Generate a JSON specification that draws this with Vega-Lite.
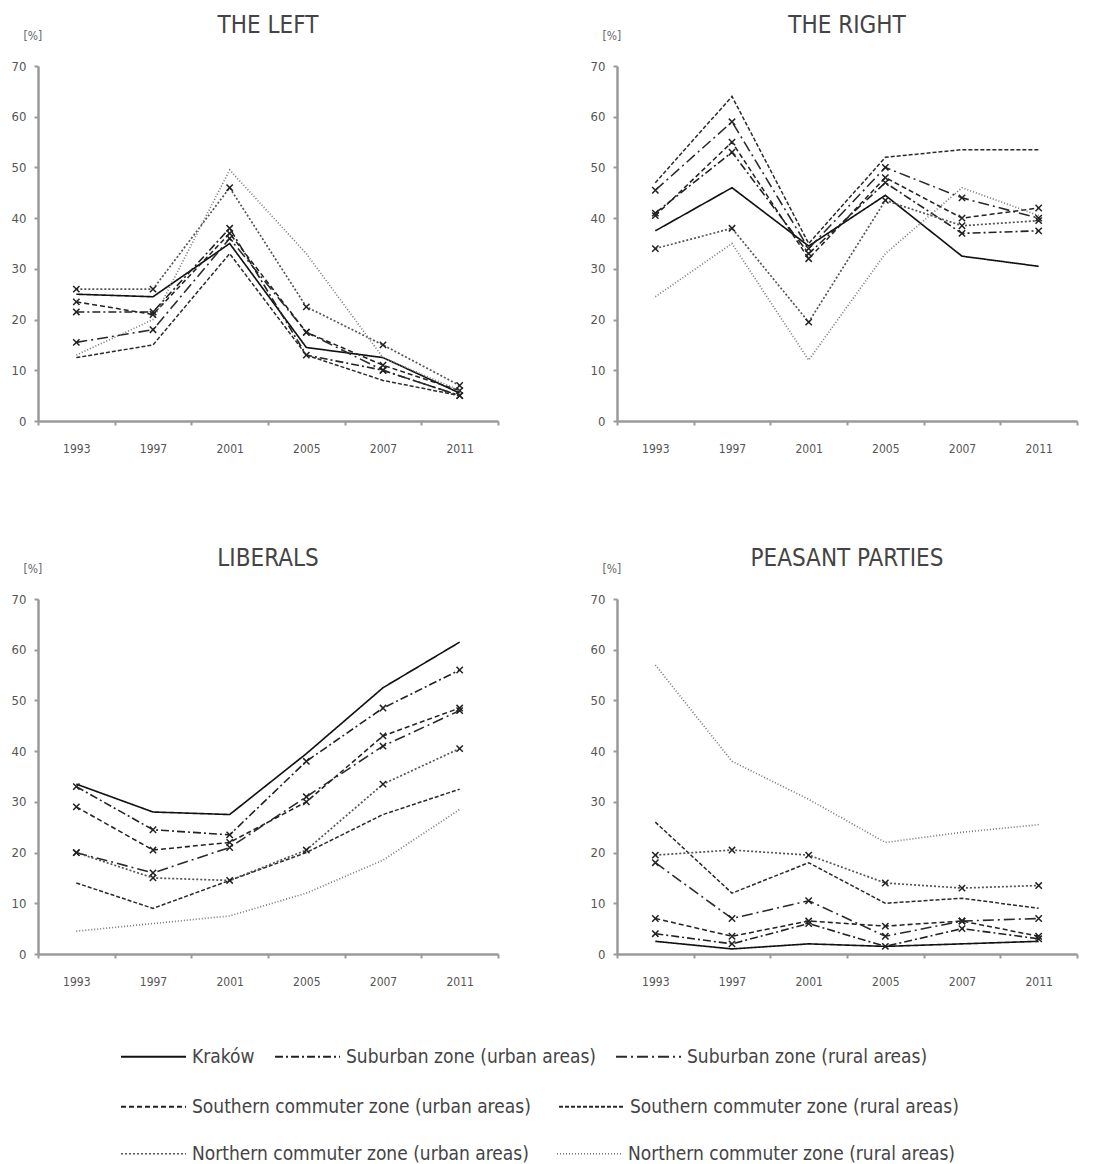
{
  "$schema": "https://vega.github.io/schema/vega-lite/v6.json",
  "background": "white",
  "padding": {"left": 11, "top": 14, "right": 10, "bottom": 4},
  "config": {
    "font": "'Liberation Sans Narrow', 'DejaVu Sans Condensed', 'Liberation Sans', sans-serif",
    "view": {"stroke": null},
    "axis": {"grid": false, "domainColor": "#9a9a9a", "domainWidth": 2.5, "tickColor": "#9a9a9a", "tickWidth": 2, "tickSize": 4, "labelColor": "#555", "titleColor": "#666", "titleFontWeight": "normal"},
    "header": {"labelFontSize": 24, "labelColor": "#444", "labelFont": "'Liberation Sans Narrow', 'DejaVu Sans Condensed', sans-serif"},
    "legend": {"symbolType": "stroke", "symbolSize": 4225, "symbolStrokeWidth": 2, "labelFontSize": 19, "labelColor": "#444", "labelOffset": 5, "labelLimit": 500, "title": null, "direction": "horizontal", "orient": "none"}
  },
  "data": {"values": [
    {"party": "THE LEFT", "zone": "Kraków", "year": "1993", "share": 25},
    {"party": "THE LEFT", "zone": "Kraków", "year": "1997", "share": 24.5},
    {"party": "THE LEFT", "zone": "Kraków", "year": "2001", "share": 35},
    {"party": "THE LEFT", "zone": "Kraków", "year": "2005", "share": 14.5},
    {"party": "THE LEFT", "zone": "Kraków", "year": "2007", "share": 12.5},
    {"party": "THE LEFT", "zone": "Kraków", "year": "2011", "share": 5.5},
    {"party": "THE LEFT", "zone": "Suburban zone (urban areas)", "year": "1993", "share": 21.5},
    {"party": "THE LEFT", "zone": "Suburban zone (urban areas)", "year": "1997", "share": 21.5},
    {"party": "THE LEFT", "zone": "Suburban zone (urban areas)", "year": "2001", "share": 38},
    {"party": "THE LEFT", "zone": "Suburban zone (urban areas)", "year": "2005", "share": 13},
    {"party": "THE LEFT", "zone": "Suburban zone (urban areas)", "year": "2007", "share": 10},
    {"party": "THE LEFT", "zone": "Suburban zone (urban areas)", "year": "2011", "share": 5},
    {"party": "THE LEFT", "zone": "Suburban zone (rural areas)", "year": "1993", "share": 15.5},
    {"party": "THE LEFT", "zone": "Suburban zone (rural areas)", "year": "1997", "share": 18},
    {"party": "THE LEFT", "zone": "Suburban zone (rural areas)", "year": "2001", "share": 36},
    {"party": "THE LEFT", "zone": "Suburban zone (rural areas)", "year": "2005", "share": 17.5},
    {"party": "THE LEFT", "zone": "Suburban zone (rural areas)", "year": "2007", "share": 10},
    {"party": "THE LEFT", "zone": "Suburban zone (rural areas)", "year": "2011", "share": 5},
    {"party": "THE LEFT", "zone": "Southern commuter zone (urban areas)", "year": "1993", "share": 23.5},
    {"party": "THE LEFT", "zone": "Southern commuter zone (urban areas)", "year": "1997", "share": 21},
    {"party": "THE LEFT", "zone": "Southern commuter zone (urban areas)", "year": "2001", "share": 37},
    {"party": "THE LEFT", "zone": "Southern commuter zone (urban areas)", "year": "2005", "share": 17.5},
    {"party": "THE LEFT", "zone": "Southern commuter zone (urban areas)", "year": "2007", "share": 11},
    {"party": "THE LEFT", "zone": "Southern commuter zone (urban areas)", "year": "2011", "share": 6},
    {"party": "THE LEFT", "zone": "Southern commuter zone (rural areas)", "year": "1993", "share": 12.5},
    {"party": "THE LEFT", "zone": "Southern commuter zone (rural areas)", "year": "1997", "share": 15},
    {"party": "THE LEFT", "zone": "Southern commuter zone (rural areas)", "year": "2001", "share": 33},
    {"party": "THE LEFT", "zone": "Southern commuter zone (rural areas)", "year": "2005", "share": 13},
    {"party": "THE LEFT", "zone": "Southern commuter zone (rural areas)", "year": "2007", "share": 8},
    {"party": "THE LEFT", "zone": "Southern commuter zone (rural areas)", "year": "2011", "share": 5},
    {"party": "THE LEFT", "zone": "Northern commuter zone (urban areas)", "year": "1993", "share": 26},
    {"party": "THE LEFT", "zone": "Northern commuter zone (urban areas)", "year": "1997", "share": 26},
    {"party": "THE LEFT", "zone": "Northern commuter zone (urban areas)", "year": "2001", "share": 46},
    {"party": "THE LEFT", "zone": "Northern commuter zone (urban areas)", "year": "2005", "share": 22.5},
    {"party": "THE LEFT", "zone": "Northern commuter zone (urban areas)", "year": "2007", "share": 15},
    {"party": "THE LEFT", "zone": "Northern commuter zone (urban areas)", "year": "2011", "share": 7},
    {"party": "THE LEFT", "zone": "Northern commuter zone (rural areas)", "year": "1993", "share": 13},
    {"party": "THE LEFT", "zone": "Northern commuter zone (rural areas)", "year": "1997", "share": 20},
    {"party": "THE LEFT", "zone": "Northern commuter zone (rural areas)", "year": "2001", "share": 49.5},
    {"party": "THE LEFT", "zone": "Northern commuter zone (rural areas)", "year": "2005", "share": 33},
    {"party": "THE LEFT", "zone": "Northern commuter zone (rural areas)", "year": "2007", "share": 12.5},
    {"party": "THE LEFT", "zone": "Northern commuter zone (rural areas)", "year": "2011", "share": 6},

    {"party": "THE RIGHT", "zone": "Kraków", "year": "1993", "share": 37.5},
    {"party": "THE RIGHT", "zone": "Kraków", "year": "1997", "share": 46},
    {"party": "THE RIGHT", "zone": "Kraków", "year": "2001", "share": 34.5},
    {"party": "THE RIGHT", "zone": "Kraków", "year": "2005", "share": 44.5},
    {"party": "THE RIGHT", "zone": "Kraków", "year": "2007", "share": 32.5},
    {"party": "THE RIGHT", "zone": "Kraków", "year": "2011", "share": 30.5},
    {"party": "THE RIGHT", "zone": "Suburban zone (urban areas)", "year": "1993", "share": 41},
    {"party": "THE RIGHT", "zone": "Suburban zone (urban areas)", "year": "1997", "share": 53},
    {"party": "THE RIGHT", "zone": "Suburban zone (urban areas)", "year": "2001", "share": 33},
    {"party": "THE RIGHT", "zone": "Suburban zone (urban areas)", "year": "2005", "share": 47},
    {"party": "THE RIGHT", "zone": "Suburban zone (urban areas)", "year": "2007", "share": 37},
    {"party": "THE RIGHT", "zone": "Suburban zone (urban areas)", "year": "2011", "share": 37.5},
    {"party": "THE RIGHT", "zone": "Suburban zone (rural areas)", "year": "1993", "share": 45.5},
    {"party": "THE RIGHT", "zone": "Suburban zone (rural areas)", "year": "1997", "share": 59},
    {"party": "THE RIGHT", "zone": "Suburban zone (rural areas)", "year": "2001", "share": 34},
    {"party": "THE RIGHT", "zone": "Suburban zone (rural areas)", "year": "2005", "share": 50},
    {"party": "THE RIGHT", "zone": "Suburban zone (rural areas)", "year": "2007", "share": 44},
    {"party": "THE RIGHT", "zone": "Suburban zone (rural areas)", "year": "2011", "share": 40},
    {"party": "THE RIGHT", "zone": "Southern commuter zone (urban areas)", "year": "1993", "share": 40.5},
    {"party": "THE RIGHT", "zone": "Southern commuter zone (urban areas)", "year": "1997", "share": 55},
    {"party": "THE RIGHT", "zone": "Southern commuter zone (urban areas)", "year": "2001", "share": 32},
    {"party": "THE RIGHT", "zone": "Southern commuter zone (urban areas)", "year": "2005", "share": 48},
    {"party": "THE RIGHT", "zone": "Southern commuter zone (urban areas)", "year": "2007", "share": 40},
    {"party": "THE RIGHT", "zone": "Southern commuter zone (urban areas)", "year": "2011", "share": 42},
    {"party": "THE RIGHT", "zone": "Southern commuter zone (rural areas)", "year": "1993", "share": 47},
    {"party": "THE RIGHT", "zone": "Southern commuter zone (rural areas)", "year": "1997", "share": 64},
    {"party": "THE RIGHT", "zone": "Southern commuter zone (rural areas)", "year": "2001", "share": 35},
    {"party": "THE RIGHT", "zone": "Southern commuter zone (rural areas)", "year": "2005", "share": 52},
    {"party": "THE RIGHT", "zone": "Southern commuter zone (rural areas)", "year": "2007", "share": 53.5},
    {"party": "THE RIGHT", "zone": "Southern commuter zone (rural areas)", "year": "2011", "share": 53.5},
    {"party": "THE RIGHT", "zone": "Northern commuter zone (urban areas)", "year": "1993", "share": 34},
    {"party": "THE RIGHT", "zone": "Northern commuter zone (urban areas)", "year": "1997", "share": 38},
    {"party": "THE RIGHT", "zone": "Northern commuter zone (urban areas)", "year": "2001", "share": 19.5},
    {"party": "THE RIGHT", "zone": "Northern commuter zone (urban areas)", "year": "2005", "share": 43.5},
    {"party": "THE RIGHT", "zone": "Northern commuter zone (urban areas)", "year": "2007", "share": 38.5},
    {"party": "THE RIGHT", "zone": "Northern commuter zone (urban areas)", "year": "2011", "share": 39.5},
    {"party": "THE RIGHT", "zone": "Northern commuter zone (rural areas)", "year": "1993", "share": 24.5},
    {"party": "THE RIGHT", "zone": "Northern commuter zone (rural areas)", "year": "1997", "share": 35},
    {"party": "THE RIGHT", "zone": "Northern commuter zone (rural areas)", "year": "2001", "share": 12},
    {"party": "THE RIGHT", "zone": "Northern commuter zone (rural areas)", "year": "2005", "share": 33},
    {"party": "THE RIGHT", "zone": "Northern commuter zone (rural areas)", "year": "2007", "share": 46},
    {"party": "THE RIGHT", "zone": "Northern commuter zone (rural areas)", "year": "2011", "share": 40.5},

    {"party": "LIBERALS", "zone": "Kraków", "year": "1993", "share": 33.5},
    {"party": "LIBERALS", "zone": "Kraków", "year": "1997", "share": 28},
    {"party": "LIBERALS", "zone": "Kraków", "year": "2001", "share": 27.5},
    {"party": "LIBERALS", "zone": "Kraków", "year": "2005", "share": 39.5},
    {"party": "LIBERALS", "zone": "Kraków", "year": "2007", "share": 52.5},
    {"party": "LIBERALS", "zone": "Kraków", "year": "2011", "share": 61.5},
    {"party": "LIBERALS", "zone": "Suburban zone (urban areas)", "year": "1993", "share": 33},
    {"party": "LIBERALS", "zone": "Suburban zone (urban areas)", "year": "1997", "share": 24.5},
    {"party": "LIBERALS", "zone": "Suburban zone (urban areas)", "year": "2001", "share": 23.5},
    {"party": "LIBERALS", "zone": "Suburban zone (urban areas)", "year": "2005", "share": 38},
    {"party": "LIBERALS", "zone": "Suburban zone (urban areas)", "year": "2007", "share": 48.5},
    {"party": "LIBERALS", "zone": "Suburban zone (urban areas)", "year": "2011", "share": 56},
    {"party": "LIBERALS", "zone": "Suburban zone (rural areas)", "year": "1993", "share": 20},
    {"party": "LIBERALS", "zone": "Suburban zone (rural areas)", "year": "1997", "share": 16},
    {"party": "LIBERALS", "zone": "Suburban zone (rural areas)", "year": "2001", "share": 21},
    {"party": "LIBERALS", "zone": "Suburban zone (rural areas)", "year": "2005", "share": 31},
    {"party": "LIBERALS", "zone": "Suburban zone (rural areas)", "year": "2007", "share": 41},
    {"party": "LIBERALS", "zone": "Suburban zone (rural areas)", "year": "2011", "share": 48},
    {"party": "LIBERALS", "zone": "Southern commuter zone (urban areas)", "year": "1993", "share": 29},
    {"party": "LIBERALS", "zone": "Southern commuter zone (urban areas)", "year": "1997", "share": 20.5},
    {"party": "LIBERALS", "zone": "Southern commuter zone (urban areas)", "year": "2001", "share": 22},
    {"party": "LIBERALS", "zone": "Southern commuter zone (urban areas)", "year": "2005", "share": 30},
    {"party": "LIBERALS", "zone": "Southern commuter zone (urban areas)", "year": "2007", "share": 43},
    {"party": "LIBERALS", "zone": "Southern commuter zone (urban areas)", "year": "2011", "share": 48.5},
    {"party": "LIBERALS", "zone": "Southern commuter zone (rural areas)", "year": "1993", "share": 14},
    {"party": "LIBERALS", "zone": "Southern commuter zone (rural areas)", "year": "1997", "share": 9},
    {"party": "LIBERALS", "zone": "Southern commuter zone (rural areas)", "year": "2001", "share": 14.5},
    {"party": "LIBERALS", "zone": "Southern commuter zone (rural areas)", "year": "2005", "share": 20},
    {"party": "LIBERALS", "zone": "Southern commuter zone (rural areas)", "year": "2007", "share": 27.5},
    {"party": "LIBERALS", "zone": "Southern commuter zone (rural areas)", "year": "2011", "share": 32.5},
    {"party": "LIBERALS", "zone": "Northern commuter zone (urban areas)", "year": "1993", "share": 20},
    {"party": "LIBERALS", "zone": "Northern commuter zone (urban areas)", "year": "1997", "share": 15},
    {"party": "LIBERALS", "zone": "Northern commuter zone (urban areas)", "year": "2001", "share": 14.5},
    {"party": "LIBERALS", "zone": "Northern commuter zone (urban areas)", "year": "2005", "share": 20.5},
    {"party": "LIBERALS", "zone": "Northern commuter zone (urban areas)", "year": "2007", "share": 33.5},
    {"party": "LIBERALS", "zone": "Northern commuter zone (urban areas)", "year": "2011", "share": 40.5},
    {"party": "LIBERALS", "zone": "Northern commuter zone (rural areas)", "year": "1993", "share": 4.5},
    {"party": "LIBERALS", "zone": "Northern commuter zone (rural areas)", "year": "1997", "share": 6},
    {"party": "LIBERALS", "zone": "Northern commuter zone (rural areas)", "year": "2001", "share": 7.5},
    {"party": "LIBERALS", "zone": "Northern commuter zone (rural areas)", "year": "2005", "share": 12},
    {"party": "LIBERALS", "zone": "Northern commuter zone (rural areas)", "year": "2007", "share": 18.5},
    {"party": "LIBERALS", "zone": "Northern commuter zone (rural areas)", "year": "2011", "share": 28.5},

    {"party": "PEASANT PARTIES", "zone": "Kraków", "year": "1993", "share": 2.5},
    {"party": "PEASANT PARTIES", "zone": "Kraków", "year": "1997", "share": 1},
    {"party": "PEASANT PARTIES", "zone": "Kraków", "year": "2001", "share": 2},
    {"party": "PEASANT PARTIES", "zone": "Kraków", "year": "2005", "share": 1.5},
    {"party": "PEASANT PARTIES", "zone": "Kraków", "year": "2007", "share": 2},
    {"party": "PEASANT PARTIES", "zone": "Kraków", "year": "2011", "share": 2.5},
    {"party": "PEASANT PARTIES", "zone": "Suburban zone (urban areas)", "year": "1993", "share": 4},
    {"party": "PEASANT PARTIES", "zone": "Suburban zone (urban areas)", "year": "1997", "share": 2},
    {"party": "PEASANT PARTIES", "zone": "Suburban zone (urban areas)", "year": "2001", "share": 6},
    {"party": "PEASANT PARTIES", "zone": "Suburban zone (urban areas)", "year": "2005", "share": 1.5},
    {"party": "PEASANT PARTIES", "zone": "Suburban zone (urban areas)", "year": "2007", "share": 5},
    {"party": "PEASANT PARTIES", "zone": "Suburban zone (urban areas)", "year": "2011", "share": 3},
    {"party": "PEASANT PARTIES", "zone": "Suburban zone (rural areas)", "year": "1993", "share": 18},
    {"party": "PEASANT PARTIES", "zone": "Suburban zone (rural areas)", "year": "1997", "share": 7},
    {"party": "PEASANT PARTIES", "zone": "Suburban zone (rural areas)", "year": "2001", "share": 10.5},
    {"party": "PEASANT PARTIES", "zone": "Suburban zone (rural areas)", "year": "2005", "share": 3.5},
    {"party": "PEASANT PARTIES", "zone": "Suburban zone (rural areas)", "year": "2007", "share": 6.5},
    {"party": "PEASANT PARTIES", "zone": "Suburban zone (rural areas)", "year": "2011", "share": 7},
    {"party": "PEASANT PARTIES", "zone": "Southern commuter zone (urban areas)", "year": "1993", "share": 7},
    {"party": "PEASANT PARTIES", "zone": "Southern commuter zone (urban areas)", "year": "1997", "share": 3.5},
    {"party": "PEASANT PARTIES", "zone": "Southern commuter zone (urban areas)", "year": "2001", "share": 6.5},
    {"party": "PEASANT PARTIES", "zone": "Southern commuter zone (urban areas)", "year": "2005", "share": 5.5},
    {"party": "PEASANT PARTIES", "zone": "Southern commuter zone (urban areas)", "year": "2007", "share": 6.5},
    {"party": "PEASANT PARTIES", "zone": "Southern commuter zone (urban areas)", "year": "2011", "share": 3.5},
    {"party": "PEASANT PARTIES", "zone": "Southern commuter zone (rural areas)", "year": "1993", "share": 26},
    {"party": "PEASANT PARTIES", "zone": "Southern commuter zone (rural areas)", "year": "1997", "share": 12},
    {"party": "PEASANT PARTIES", "zone": "Southern commuter zone (rural areas)", "year": "2001", "share": 18},
    {"party": "PEASANT PARTIES", "zone": "Southern commuter zone (rural areas)", "year": "2005", "share": 10},
    {"party": "PEASANT PARTIES", "zone": "Southern commuter zone (rural areas)", "year": "2007", "share": 11},
    {"party": "PEASANT PARTIES", "zone": "Southern commuter zone (rural areas)", "year": "2011", "share": 9},
    {"party": "PEASANT PARTIES", "zone": "Northern commuter zone (urban areas)", "year": "1993", "share": 19.5},
    {"party": "PEASANT PARTIES", "zone": "Northern commuter zone (urban areas)", "year": "1997", "share": 20.5},
    {"party": "PEASANT PARTIES", "zone": "Northern commuter zone (urban areas)", "year": "2001", "share": 19.5},
    {"party": "PEASANT PARTIES", "zone": "Northern commuter zone (urban areas)", "year": "2005", "share": 14},
    {"party": "PEASANT PARTIES", "zone": "Northern commuter zone (urban areas)", "year": "2007", "share": 13},
    {"party": "PEASANT PARTIES", "zone": "Northern commuter zone (urban areas)", "year": "2011", "share": 13.5},
    {"party": "PEASANT PARTIES", "zone": "Northern commuter zone (rural areas)", "year": "1993", "share": 57},
    {"party": "PEASANT PARTIES", "zone": "Northern commuter zone (rural areas)", "year": "1997", "share": 38},
    {"party": "PEASANT PARTIES", "zone": "Northern commuter zone (rural areas)", "year": "2001", "share": 30.5},
    {"party": "PEASANT PARTIES", "zone": "Northern commuter zone (rural areas)", "year": "2005", "share": 22},
    {"party": "PEASANT PARTIES", "zone": "Northern commuter zone (rural areas)", "year": "2007", "share": 24},
    {"party": "PEASANT PARTIES", "zone": "Northern commuter zone (rural areas)", "year": "2011", "share": 25.5}
  ]},
  "facet": {
    "field": "party", "type": "nominal",
    "sort": ["THE LEFT", "THE RIGHT", "LIBERALS", "PEASANT PARTIES"],
    "header": {"title": null, "labelPadding": -9}
  },
  "columns": 2,
  "spacing": {"row": 93, "column": 91},
  "resolve": {"axis": {"x": "independent", "y": "independent"}},
  "spec": {
    "width": 460,
    "height": 355,
    "encoding": {
      "x": {"field": "year", "type": "ordinal",
            "scale": {"type": "band", "paddingInner": 0, "paddingOuter": 0},
            "axis": {"title": null, "labelAngle": 0, "labelFontSize": 12, "labelPadding": 18, "tickBand": "extent", "labelColor": "#555"}},
      "y": {"field": "share", "type": "quantitative",
            "scale": {"domain": [0, 70], "nice": false},
            "axis": {"title": "[%]", "titleAngle": 0, "titleFontSize": 12, "titleX": -15, "titleY": -24, "titleAlign": "left", "titleBaseline": "bottom",
                     "values": [0, 10, 20, 30, 40, 50, 60, 70], "labelFontSize": 13, "labelPadding": 8}}
    },
    "layer": [
      {
        "mark": {"type": "line"},
        "encoding": {
          "detail": {"field": "zone"},
          "strokeDash": {"field": "zone", "type": "nominal",
            "scale": {"domain": ["Kraków", "Suburban zone (urban areas)", "Suburban zone (rural areas)", "Southern commuter zone (urban areas)", "Southern commuter zone (rural areas)", "Northern commuter zone (urban areas)", "Northern commuter zone (rural areas)"],
                      "range": [[1, 0], [8, 3, 2, 3], [11, 4, 2, 4], [5, 3], [4, 2], [2, 2], [1, 2]]},
            "legend": {"values": ["Kraków", "Suburban zone (urban areas)", "Suburban zone (rural areas)"], "legendX": 82, "legendY": 957, "columnPadding": 16,
                       "encode": {"symbols": {"update": {"strokeDash": {"scale": "strokeDash", "field": "value"}, "stroke": {"scale": "color", "field": "value"}, "strokeWidth": {"value": 2}}}}}},
          "color": {"field": "zone", "type": "nominal",
            "scale": {"domain": ["Southern commuter zone (urban areas)", "Southern commuter zone (rural areas)", "Kraków", "Suburban zone (urban areas)", "Suburban zone (rural areas)", "Northern commuter zone (urban areas)", "Northern commuter zone (rural areas)"],
                      "range": ["#222222", "#2a2a2a", "#111111", "#222222", "#2a2a2a", "#555555", "#777777"]},
            "legend": {"values": ["Southern commuter zone (urban areas)", "Southern commuter zone (rural areas)"], "legendX": 82, "legendY": 1007, "columnPadding": 24,
                       "encode": {"symbols": {"update": {"strokeDash": {"scale": "strokeDash", "field": "value"}, "stroke": {"scale": "color", "field": "value"}, "strokeWidth": {"value": 2}}}}}},
          "strokeWidth": {"field": "zone", "type": "nominal",
            "scale": {"domain": ["Northern commuter zone (urban areas)", "Northern commuter zone (rural areas)", "Kraków", "Suburban zone (urban areas)", "Suburban zone (rural areas)", "Southern commuter zone (urban areas)", "Southern commuter zone (rural areas)"],
                      "range": [1.7, 1.5, 2.2, 1.8, 1.8, 1.8, 2]},
            "legend": {"values": ["Northern commuter zone (urban areas)", "Northern commuter zone (rural areas)"], "legendX": 82, "legendY": 1054, "columnPadding": 24,
                       "encode": {"symbols": {"update": {"strokeDash": {"scale": "strokeDash", "field": "value"}, "stroke": {"scale": "color", "field": "value"}, "strokeWidth": {"value": 2}}}}}}
        }
      },
      {
        "transform": [{"filter": "indexof(datum.zone, 'urban') >= 0"}],
        "mark": {"type": "point", "shape": "M-1,-1L1,1M-1,1L1,-1", "filled": false, "stroke": "#222", "strokeWidth": 1.5, "size": 40, "opacity": 1}
      }
    ]
  }
}
